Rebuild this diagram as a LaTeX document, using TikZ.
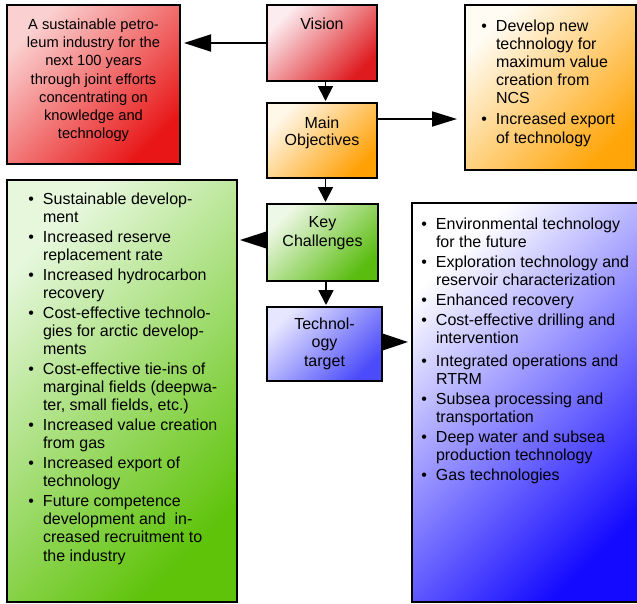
\documentclass[tikz,border=0pt]{standalone}
\usepackage{fontspec}
\setmainfont{Liberation Sans}
\usetikzlibrary{arrows.meta}
\definecolor{redTL}{RGB}{251,208,208}
\definecolor{redBR}{RGB}{232,22,22}
\definecolor{visTL}{RGB}{252,236,240}
\definecolor{visBR}{RGB}{222,28,32}
\definecolor{orTL}{RGB}{255,252,244}
\definecolor{orBR}{RGB}{255,165,10}
\definecolor{moTL}{RGB}{255,247,232}
\definecolor{moBR}{RGB}{255,160,5}
\definecolor{grTL}{RGB}{230,247,220}
\definecolor{grBR}{RGB}{95,195,10}
\definecolor{kcTL}{RGB}{238,248,230}
\definecolor{kcBR}{RGB}{90,188,15}
\definecolor{ttTL}{RGB}{230,230,255}
\definecolor{ttBR}{RGB}{75,75,250}
\definecolor{blTL}{RGB}{255,255,255}
\definecolor{blBR}{RGB}{20,10,255}
\newcommand\bul{\llap{\textbullet\hspace{9pt}}}
\newcommand\tstr{\rule{0pt}{13pt}}
\tikzset{
  box/.style={draw=black, line width=1.8pt, rectangle, inner sep=0pt, outer sep=0pt, anchor=north west},
  txt/.style={inner sep=0pt, outer sep=0pt, font=\fontsize{16}{18.2}\selectfont},
  arrh/.style 2 args={line width=1.8pt, -{Triangle[length=#1pt, width=#2pt]}},
}
\begin{document}
\begin{tikzpicture}[x=1pt,y=-1pt]
\useasboundingbox (0,0) rectangle (637,603);
\clip (0,0) rectangle (637,603);
% boxes
\node[box, top color=redTL, bottom color=redBR, shading angle=45, minimum width=173pt, minimum height=159pt] (red) at (7,5) {};
\node[box, top color=visTL, bottom color=visBR, shading angle=45, minimum width=110pt, minimum height=76pt] (vision) at (267,5) {};
\node[box, top color=orTL, bottom color=orBR, shading angle=45, minimum width=171pt, minimum height=165pt] (orange) at (465,5) {};
\node[box, top color=moTL, bottom color=moBR, shading angle=45, minimum width=110pt, minimum height=75pt] (mainobj) at (267,103) {};
\node[box, top color=grTL, bottom color=grBR, shading angle=45, minimum width=230pt, minimum height=422pt] (green) at (7,180) {};
\node[box, top color=kcTL, bottom color=kcBR, shading angle=45, minimum width=111pt, minimum height=77pt] (keych) at (267,204) {};
\node[box, top color=ttTL, bottom color=ttBR, shading angle=45, minimum width=115pt, minimum height=74pt] (tech) at (267,307) {};
\node[box, top color=blTL, bottom color=blBR, shading angle=45, minimum width=232pt, minimum height=399pt] (blue) at (412,203) {};
% texts
\node[txt, anchor=north, align=center, font=\fontsize{14.7}{18.2}\selectfont] (redtext) at (93.5,16.5)
 {\tstr A sustainable petro-\\leum industry for the\\next 100 years\\through joint efforts\\concentrating on\\knowledge and\\technology};
\node[txt, anchor=north, align=center] (vistext) at (322,16) {\tstr Vision};
\node[txt, anchor=north, align=center, font=\fontsize{16}{17.5}\selectfont] (motext) at (322,115) {\tstr Main\\Objectives};
\node[txt, anchor=north, align=center, font=\fontsize{16}{19}\selectfont] (kctext) at (322.5,214) {\tstr Key\\Challenges};
\node[txt, anchor=north, align=center, font=\fontsize{16}{18.5}\selectfont] (tttext) at (324.5,316) {\tstr Technol-\\ogy\\target};
\node[txt, anchor=north west, align=left] (ortext) at (496,18)
 {\tstr\bul Develop new\\technology for\\maximum value\\creation from\\NCS\\[2.8pt]
  \bul Increased export\\of technology};
\node[txt, anchor=north west, align=left] (grtext) at (43,191)
 {\tstr\bul Sustainable develop-\\ment\\[1.6pt]
  \bul Increased reserve\\replacement rate\\[1.6pt]
  \bul Increased hydrocarbon\\recovery\\[1.6pt]
  \bul Cost-effective technolo-\\gies for arctic develop-\\ments\\[1.6pt]
  \bul Cost-effective tie-ins of\\marginal fields (deepwa-\\ter, small fields, etc.)\\[1.6pt]
  \bul Increased value creation\\from gas\\[1.6pt]
  \bul Increased export of\\technology\\[1.6pt]
  \bul Future competence\\development and \ in-\\creased recruitment to\\the industry};
\node[txt, anchor=north west, align=left] (bltext) at (436,216)
 {\tstr\bul Environmental technology\\for the future\\[1.7pt]
  \bul Exploration technology and\\reservoir characterization\\[1.7pt]
  \bul Enhanced recovery\\[1.7pt]
  \bul Cost-effective drilling and\\intervention\\[5pt]
  \bul Integrated operations and\\RTRM\\[1.7pt]
  \bul Subsea processing and\\transportation\\[1.7pt]
  \bul Deep water and subsea\\production technology\\[1.7pt]
  \bul Gas technologies};
% connectors
\draw[arrh={27}{17}, shorten >=4pt] (vision.west) -- (vision.west -| red.east);
\draw[arrh={15}{15}, shorten >=2pt] ([xshift=3.5pt]vision.south) -- ([xshift=3.5pt]vision.south |- mainobj.north);
\coordinate (mo) at ([yshift=21.5pt]mainobj.east);
\draw[arrh={25}{15}, shorten >=8pt] (mo) -- (mo -| orange.west);
\draw[arrh={15}{15}, shorten >=2pt] ([xshift=3.5pt]mainobj.south) -- ([xshift=3.5pt]mainobj.south |- keych.north);
\coordinate (kc) at ([yshift=2.5pt]keych.west);
\draw[arrh={27}{17}, shorten >=3pt] (kc) -- (kc -| green.east);
\draw[arrh={15}{15}, shorten >=2pt] ([xshift=3.5pt]keych.south) -- ([xshift=3.5pt]keych.south |- tech.north);
\coordinate (tt) at ([yshift=2pt]tech.east);
\draw[arrh={26}{17}, shorten >=4pt] (tt) -- (tt -| blue.west);
\end{tikzpicture}
\end{document}
